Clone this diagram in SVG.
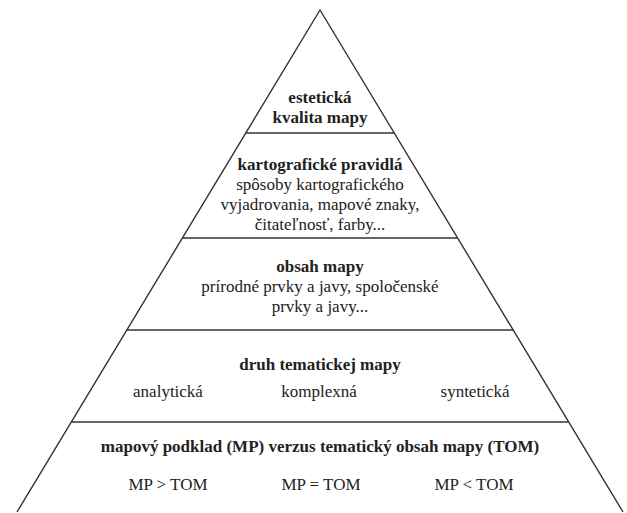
<svg xmlns="http://www.w3.org/2000/svg" width="627" height="513" viewBox="0 0 627 513">
<style>
.e{fill:none;stroke:#333;stroke-width:1.4}
.t{font-family:'Liberation Serif','Times New Roman','DejaVu Serif',serif;font-size:17px;fill:#222;text-anchor:middle}
.b{font-weight:bold}
</style>
<rect width="627" height="513" fill="#fff"/>
<g id="connectors">
<polyline class="e" points="17,512 320,10 623,512"/>
<line class="e" x1="245.8" y1="133" x2="394.2" y2="133"/>
<line class="e" x1="182.4" y1="238" x2="457.6" y2="238"/>
<line class="e" x1="126.8" y1="330" x2="513.2" y2="330"/>
<line class="e" x1="71.3" y1="422" x2="568.7" y2="422"/>
</g>
<g id="level1" class="t" font-family="Liberation Serif, serif">
<text class="b" x="320" y="103">estetická</text>
<text class="b" x="320" y="123">kvalita mapy</text>
</g>
<g id="level2" class="t" font-family="Liberation Serif, serif">
<text class="b" x="320" y="170">kartografické pravidlá</text>
<text x="320" y="190">spôsoby kartografického</text>
<text x="320" y="210">vyjadrovania, mapové znaky,</text>
<text x="320" y="230">čitateľnosť, farby...</text>
</g>
<g id="level3" class="t" font-family="Liberation Serif, serif">
<text class="b" x="320" y="272">obsah mapy</text>
<text x="320" y="292">prírodné prvky a javy, spoločenské</text>
<text x="320" y="312">prvky a javy...</text>
</g>
<g id="level4" class="t" font-family="Liberation Serif, serif">
<text class="b" x="320" y="370">druh tematickej mapy</text>
<text x="168" y="397">analytická</text>
<text x="319" y="397">komplexná</text>
<text x="475" y="397">syntetická</text>
</g>
<g id="level5" class="t" font-family="Liberation Serif, serif">
<text class="b" x="320" y="452">mapový podklad (MP) verzus tematický obsah mapy (TOM)</text>
<text x="168" y="490">MP &gt; TOM</text>
<text x="321" y="490">MP = TOM</text>
<text x="474" y="490">MP &lt; TOM</text>
</g>
</svg>
